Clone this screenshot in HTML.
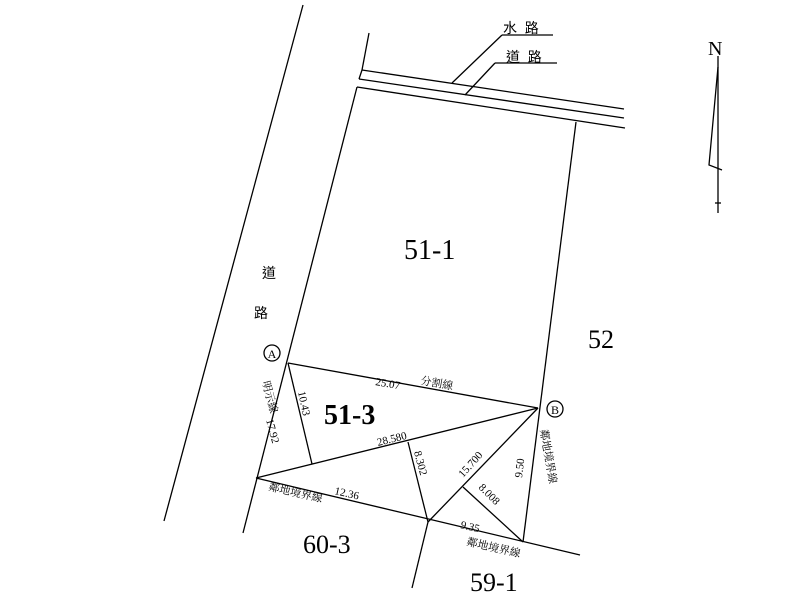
<!DOCTYPE html>
<html><head><meta charset="utf-8"><style>
html,body{margin:0;padding:0;background:#fff;width:800px;height:600px;overflow:hidden}
svg{display:block}
text{font-family:"Liberation Serif","Noto Serif CJK SC",serif;fill:#000}
.s{font-family:"Liberation Sans","Noto Sans CJK TC",sans-serif;font-size:11px}
</style></head><body>
<svg width="800" height="600" viewBox="0 0 800 600" xmlns="http://www.w3.org/2000/svg">
<g stroke="#000" stroke-width="1.3" fill="none">
<line x1="303" y1="5" x2="164" y2="521"/>
<line x1="369" y1="33" x2="362" y2="70"/>
<line x1="362" y1="70" x2="359" y2="79"/>
<line x1="362" y1="70" x2="624" y2="109"/>
<line x1="359" y1="79" x2="624" y2="118"/>
<line x1="357" y1="87" x2="625" y2="128"/>
<line x1="357" y1="87" x2="243" y2="533"/>
<line x1="576" y1="122" x2="523" y2="542"/>
<line x1="288" y1="363" x2="538" y2="408"/>
<line x1="256" y1="478" x2="538" y2="408"/>
<line x1="288" y1="363" x2="312" y2="464"/>
<line x1="256" y1="478" x2="580" y2="555"/>
<line x1="408" y1="442" x2="428" y2="522"/>
<line x1="428" y1="522" x2="412" y2="588"/>
<line x1="428" y1="522" x2="538" y2="408"/>
<line x1="463" y1="487" x2="523" y2="542"/>
<line x1="452" y1="83" x2="502" y2="35"/>
<line x1="502" y1="35" x2="553" y2="35"/>
<line x1="465" y1="95" x2="495" y2="63"/>
<line x1="495" y1="63" x2="557" y2="63"/>
<line x1="718" y1="56" x2="718" y2="213"/>
<polyline points="718,67 709,165 722,170"/>
<line x1="715" y1="203" x2="721" y2="203"/>
<circle cx="272" cy="353" r="8"/>
<circle cx="555" cy="409" r="8"/>
</g>
<text x="272" y="358" font-size="12" text-anchor="middle">A</text>
<text x="555" y="414" font-size="12" text-anchor="middle">B</text>
<text x="708" y="55" font-size="20">N</text>
<text x="404" y="259" font-size="28">51-1</text>
<text x="588" y="348" font-size="26">52</text>
<text x="324" y="424" font-size="28" font-weight="bold">51-3</text>
<text x="303" y="553" font-size="26">60-3</text>
<text x="470" y="591" font-size="26">59-1</text>
<text class="s" x="503" y="33" style="font-size:14px">水&#160;&#160;路</text>
<text class="s" x="506" y="62" style="font-size:14px">道&#160;&#160;路</text>
<text class="s" x="262" y="278" style="font-size:14px">道</text>
<text class="s" x="254" y="318" style="font-size:14px">路</text>
<g class="s">
<text transform="translate(420,384) rotate(10)">分割線</text>
<text transform="translate(375,385) rotate(10)">25.07</text>
<text transform="translate(378,446) rotate(-14)">28.580</text>
<text transform="translate(298,392) rotate(78)">10.43</text>
<text transform="translate(262,382) rotate(75)">明示線</text>
<text transform="translate(266,420) rotate(75)">17.92</text>
<text transform="translate(268,490) rotate(13)">鄰地境界線</text>
<text transform="translate(334,494) rotate(13)">12.36</text>
<text transform="translate(414,452) rotate(75)">8.302</text>
<text transform="translate(463,478) rotate(-48)">15.700</text>
<text transform="translate(478,488) rotate(45)">8.008</text>
<text transform="translate(460,528) rotate(13)">9.35</text>
<text transform="translate(466,545) rotate(13)">鄰地境界線</text>
<text transform="translate(540,430) rotate(80)">鄰地境界線</text>
<text transform="translate(522,478) rotate(-83)">9.50</text>
</g>
</svg>
</body></html>
